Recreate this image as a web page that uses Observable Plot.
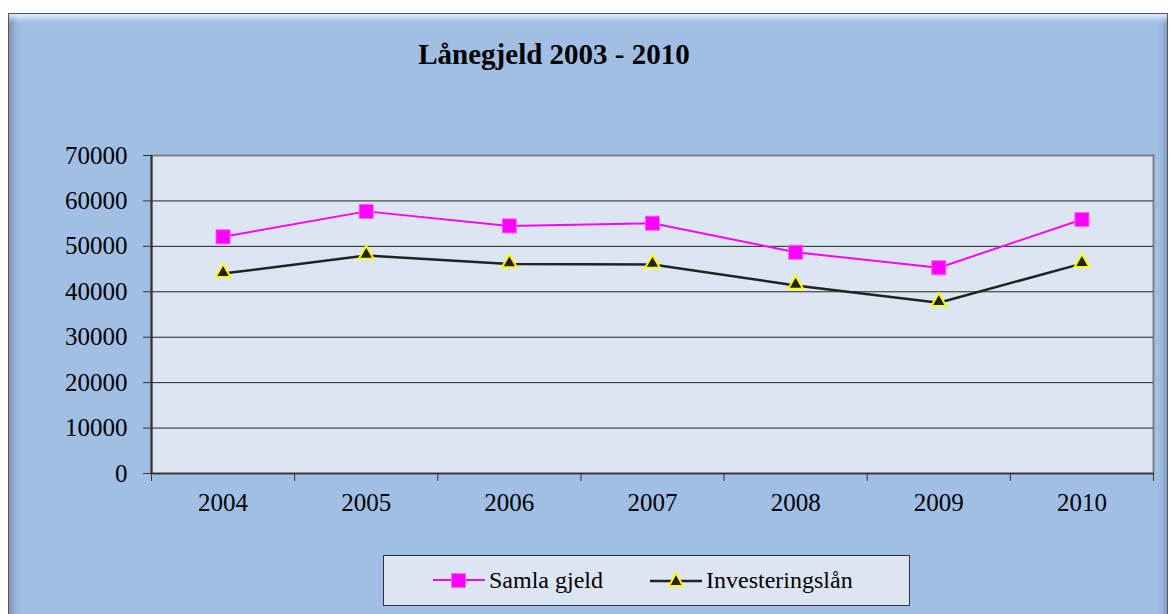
<!DOCTYPE html>
<html>
<head>
<meta charset="utf-8">
<script src="https://cdn.jsdelivr.net/npm/d3@7"></script>
<script src="https://cdn.jsdelivr.net/npm/@observablehq/plot@0.6"></script>
<style>
  html, body { margin: 0; padding: 0; background: #fff; }
  body { width: 1170px; height: 614px; position: relative; overflow: hidden; font-family: "Liberation Serif", "DejaVu Serif", serif; }
  #box {
    position: absolute; left: 8px; top: 13px; width: 1160px; height: 606px;
    background: #a1bee4; border: 1px solid #555; box-sizing: border-box;
    box-shadow: inset 0 9px 6px -5px rgba(235,245,255,0.95), inset 9px 0 8px -6px rgba(40,60,90,0.45), inset -6px 0 6px -4px rgba(40,60,90,0.35);
  }
  #title { position: absolute; left: 0; width: 1108px; top: 38px; text-align: center; font-weight: bold; font-size: 29px; color: #000; }
  #chart { position: absolute; left: 0; top: 0; }
  #legend {
    position: absolute; left: 383px; top: 555px; width: 527px; height: 51px; box-sizing: border-box;
    background: #dce6f2; border: 1px solid #333; font-size: 24px; color: #000;
  }
  .item { position: absolute; top: 10px; display: flex; align-items: center; height: 28px; }
  .item svg { margin-right: 4px; }
</style>
</head>
<body>
<div id="box"></div>
<div id="title">Lånegjeld 2003 - 2010</div>
<div id="chart"></div>
<div id="legend">
  <div class="item" style="left:49px"><svg width="52" height="20"><line x1="0" y1="10" x2="52" y2="10" stroke="#ff00ff" stroke-width="2"/><rect x="18.5" y="3.5" width="14" height="14" fill="#ff00ff" stroke="#ff66ff" stroke-width="1"/></svg><span>Samla gjeld</span></div>
  <div class="item" style="left:266px"><svg width="52" height="20"><line x1="0" y1="11" x2="52" y2="11" stroke="#222" stroke-width="2.5"/><polygon points="26,3 33,16 19,16" fill="#222" stroke="#ffff00" stroke-width="2"/></svg><span>Investeringslån</span></div>
</div>
<script>
const years = [2004, 2005, 2006, 2007, 2008, 2009, 2010];
const samlaGjeld = [52100, 57700, 54500, 55100, 48700, 45300, 55900];
const investeringslan = [44000, 48000, 46100, 46000, 41400, 37600, 46200];
const yTicks = [0, 10000, 20000, 30000, 40000, 50000, 60000, 70000];
const gridTicks = [10000, 20000, 30000, 40000, 50000, 60000];
const xBounds = [2003.5, 2004.5, 2005.5, 2006.5, 2007.5, 2008.5, 2009.5, 2010.5];

const samla = years.map((y, i) => ({year: y, value: samlaGjeld[i]}));
const inv = years.map((y, i) => ({year: y, value: investeringslan[i]}));

const chart = Plot.plot({
  width: 1170,
  height: 520,
  marginLeft: 151,
  marginRight: 17,
  marginTop: 155,
  marginBottom: 47,
  style: { background: "transparent", fontFamily: "Liberation Serif, serif", fontSize: "25px", color: "#000" },
  x: { type: "linear", domain: [2003.5, 2010.5] },
  y: { domain: [0, 70000] },
  marks: [
    Plot.frame({ fill: "#dce6f2", stroke: "#808080", strokeWidth: 2 }),
    Plot.gridY(gridTicks, { stroke: "#222", strokeOpacity: 1, strokeWidth: 1 }),
    Plot.ruleX([2003.5], { stroke: "#333", strokeWidth: 2 }),
    Plot.ruleY([0], { stroke: "#333", strokeWidth: 1.5 }),
    Plot.axisY({ ticks: yTicks, tickSize: 8, tickPadding: 16, fontSize: 25, tickFormat: d => String(d), stroke: "#333", fill: "#000", label: null }),
    Plot.axisX({ ticks: xBounds, tickSize: 8, tickFormat: () => "", stroke: "#333", label: null }),
    Plot.axisX({ ticks: years, tickSize: 0, tickPadding: 20, fontSize: 25, tickFormat: d => String(d), fill: "#000", label: null }),
    Plot.line(samla, { x: "year", y: "value", stroke: "#ff00ff", strokeWidth: 2 }),
    Plot.line(inv, { x: "year", y: "value", stroke: "#222", strokeWidth: 2.5 }),
    Plot.dot(samla, { x: "year", y: "value", symbol: "square", r: 8, fill: "#ff00ff", stroke: "#ff66ff", strokeWidth: 1 }),
    Plot.dot(inv, { x: "year", y: "value", symbol: "triangle", r: 5.5, fill: "#222", stroke: "#ffff00", strokeWidth: 2, dy: -1 })
  ]
});
document.getElementById("chart").appendChild(chart);
</script>
</body>
</html>
